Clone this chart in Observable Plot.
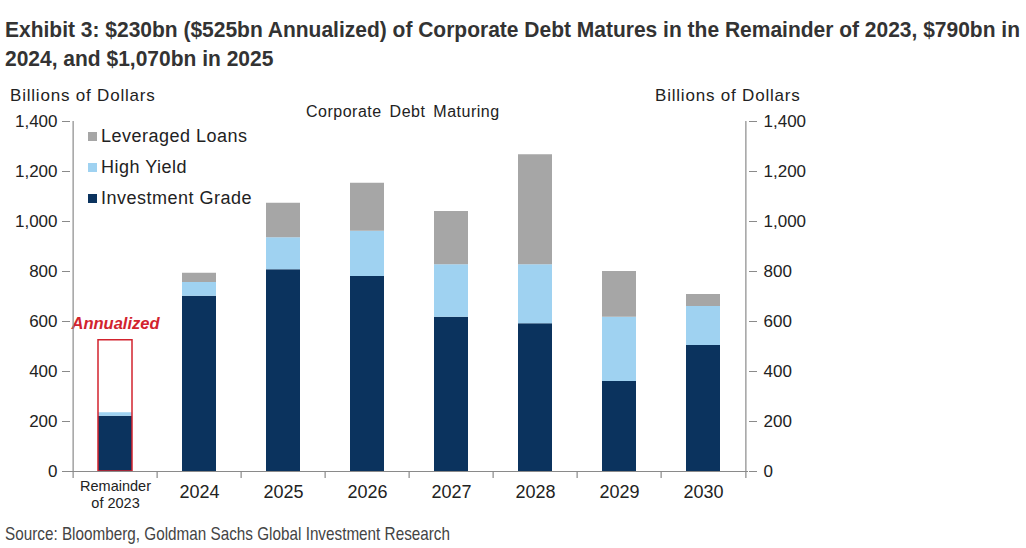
<!DOCTYPE html>
<html>
<head>
<meta charset="utf-8">
<script src="https://cdn.jsdelivr.net/npm/d3@7"></script>
<script src="https://cdn.jsdelivr.net/npm/@observablehq/plot@0.6"></script>
<style>
  html, body { margin: 0; padding: 0; background: #fff; }
  #page { position: relative; width: 1026px; height: 548px; overflow: hidden; font-family: "Liberation Sans", Arial, sans-serif; color: #222; }
  .tline { position: absolute; left: 5px; white-space: nowrap; font-family: "Liberation Sans", Arial, sans-serif; font-weight: bold; font-size: 22px; line-height: 26px; color: #333; transform-origin: 0 0; }
  #chart { position: absolute; left: 0; top: 80px; }
  .unit { position: absolute; top: 86px; font-size: 17px; letter-spacing: 0.8px; }
  #subtitle { position: absolute; top: 103px; left: 306px; font-size: 16px; letter-spacing: 0.5px; word-spacing: 3px; }
  #legend { position: absolute; left: 88px; top: 121px; font-size: 18px; letter-spacing: 0.5px; }
  .item { height: 31px; display: flex; align-items: center; }
  .sw { width: 9px; height: 9px; margin-right: 4px; }
  #source { position: absolute; left: 5px; top: 523px; white-space: nowrap; font-family: "Liberation Sans", Arial, sans-serif; font-size: 19px; color: #444; transform-origin: 0 0; }
</style>
</head>
<body>
<div id="page">
  <div class="tline" id="t1" style="top:17px">Exhibit 3: $230bn ($525bn Annualized) of Corporate Debt Matures in the Remainder of 2023, $790bn in</div>
  <div class="tline" id="t2" style="top:46px">2024, and $1,070bn in 2025</div>
  <div id="chart"></div>
  <div class="unit" style="left:10px">Billions of Dollars</div>
  <div class="unit" style="left:655px">Billions of Dollars</div>
  <div id="subtitle">Corporate Debt Maturing</div>
  <div id="legend"></div>
  <div id="source">Source: Bloomberg, Goldman Sachs Global Investment Research</div>
</div>
<script>
// ---- data ----
const categories = ["Remainder of 2023", "2024", "2025", "2026", "2027", "2028", "2029", "2030"];
const seriesNames = ["Investment Grade", "High Yield", "Leveraged Loans"];
const investmentGrade = [221, 701, 807, 780, 617, 591, 360, 504];
const highYield = [14, 55, 128, 181, 210, 236, 257, 156];
const leveragedLoans = [0, 37, 138, 192, 213, 440, 183, 48];
const annualizedCategory = ["Remainder of 2023"];
const annualizedValue = [525];
const annualizedLabel = ["Annualized"];
const yTicks = [0, 200, 400, 600, 800, 1000, 1200, 1400];
const xTickLabels = {"Remainder of 2023": "Remainder\nof 2023"};

// ---- build tables ----
const seriesValues = [investmentGrade, highYield, leveragedLoans];
const colors = ["#0b335e", "#9fd2f1", "#a6a6a6"];
const rows = [];
seriesNames.forEach((s, i) => categories.forEach((c, j) => rows.push({cat: c, series: s, value: seriesValues[i][j]})));
const annual = annualizedCategory.map((c, i) => ({cat: c, value: annualizedValue[i], label: annualizedLabel[i]}));

const W = 1026, H = 430, ML = 70, MR = 278, MT = 41, MB = 39;
const step = (W - ML - MR) / categories.length;
const axisColor = "#8a8a8a";
const red = "#d2232e";

const chart = Plot.plot({
  width: W, height: H,
  marginLeft: ML, marginRight: MR, marginTop: MT, marginBottom: MB,
  x: {domain: categories, paddingInner: 0.6, paddingOuter: 0.3, axis: null, label: null},
  y: {domain: [0, 1400], axis: null, label: null},
  color: {domain: seriesNames, range: colors},
  style: {fontFamily: "'Liberation Sans', Arial, sans-serif", color: "#222", background: "transparent", overflow: "visible"},
  marks: [
    Plot.barY(rows, {x: "cat", y: "value", fill: "series", order: seriesNames}),
    Plot.barY(annual, {x: "cat", y: "value", fill: "none", stroke: red, strokeWidth: 1.5}),
    Plot.text(annual, {x: "cat", y: "value", text: "label", dy: -17, fill: red, fontWeight: "bold", fontStyle: "italic", fontSize: 16.5, letterSpacing: 0.5}),
    // axis lines
    Plot.ruleY([0], {stroke: axisColor, strokeWidth: 1.2}),
    Plot.ruleX([categories[0]], {dx: -step / 2, stroke: axisColor, strokeWidth: 1.2}),
    Plot.ruleX([categories[categories.length - 1]], {dx: step / 2, stroke: axisColor, strokeWidth: 1.2}),
    // x boundary ticks
    Plot.ruleX(categories, {x: d => d, y1: 0, y2: -28, dx: -step / 2, stroke: axisColor, strokeWidth: 1.2}),
    Plot.ruleX([categories[categories.length - 1]], {x: d => d, y1: 0, y2: -28, dx: step / 2, stroke: axisColor, strokeWidth: 1.2}),
    // y axes
    Plot.axisY({anchor: "left", label: null, ticks: yTicks, tickFormat: d3.format(","), tickSize: 8, tickPadding: 5, stroke: axisColor, fontSize: 17, letterSpacing: 0.8, fill: "#222"}),
    Plot.axisY({anchor: "right", label: null, ticks: yTicks, tickFormat: d3.format(","), tickSize: 8, tickPadding: 7, stroke: axisColor, fontSize: 17, letterSpacing: 0.8, fill: "#222"}),
    // x labels
    Plot.axisX(categories.slice(1), {label: null, tickSize: 0, tickPadding: 14, fontSize: 18, letterSpacing: 0.5, fill: "#222"}),
    Plot.axisX(categories.slice(0, 1), {label: null, tickSize: 0, tickPadding: 7, fontSize: 14.5, lineHeight: 1.2, tickFormat: d => xTickLabels[d], fill: "#222"})
  ]
});
document.getElementById("chart").appendChild(chart);

// legend (top to bottom: reverse stack order)
const legend = document.getElementById("legend");
seriesNames.slice().reverse().forEach(s => {
  const item = document.createElement("div");
  item.className = "item";
  const sw = document.createElement("span");
  sw.className = "sw";
  sw.style.background = colors[seriesNames.indexOf(s)];
  const t = document.createElement("span");
  t.textContent = s;
  item.appendChild(sw);
  item.appendChild(t);
  legend.appendChild(item);
});

// condense title and source horizontally to match the reference widths
const t1 = document.getElementById("t1"), t2 = document.getElementById("t2");
const sTitle = 1015 / t1.getBoundingClientRect().width;
t1.style.transform = `scaleX(${sTitle})`;
t2.style.transform = `scaleX(${sTitle})`;
const src = document.getElementById("source");
src.style.transform = `scaleX(${445 / src.getBoundingClientRect().width})`;
</script>
</body>
</html>
